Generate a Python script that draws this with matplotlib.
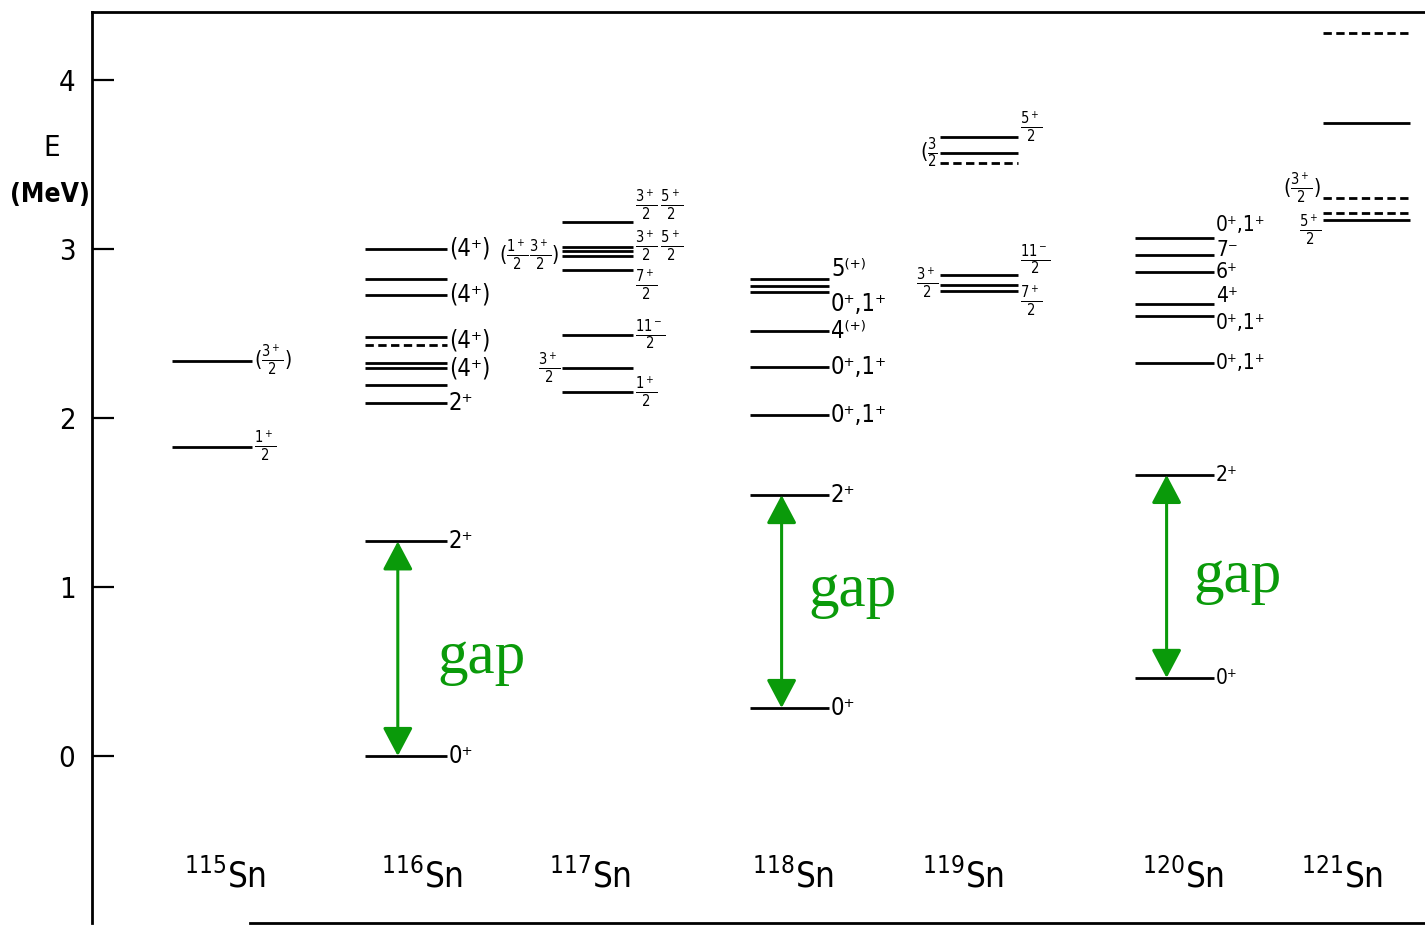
import matplotlib
matplotlib.use('Agg')
import matplotlib.pyplot as plt

plt.rcParams['font.family'] = ['DejaVu Sans']
plt.rcParams['font.stretch'] = 'condensed'
plt.rcParams['mathtext.fontset'] = 'custom'
plt.rcParams['mathtext.rm'] = 'DejaVu Sans'
plt.rcParams['mathtext.it'] = 'DejaVu Sans'

# ---------------- data (energies in MeV) ----------------
isotopes = ['115', '116', '117', '118', '119', '120', '121']

E115 = [2.34, 1.83]
R115 = [r'$(\frac{3^+}{2})$', r'$\frac{1^+}{2}$']

E116 = [3.00, 2.82, 2.73, 2.48, 2.43, 2.325, 2.295, 2.195, 2.09, 1.27, 0.0]
R116 = ['(4⁺)', '', '(4⁺)', '(4⁺)', '', '', '(4⁺)', '', '2⁺', '2⁺', '0⁺']
D116 = [0, 0, 0, 0, 1, 0, 0, 0, 0, 0, 0]

E117 = [3.16, 3.01, 2.985, 2.96, 2.876, 2.49, 2.296, 2.154]
R117 = [r'$\frac{3^+}{2}\,\frac{5^+}{2}$', '', r'$\frac{3^+}{2}\,\frac{5^+}{2}$', '',
        r'$\frac{7^+}{2}$', r'$\frac{11^-}{2}$', '', r'$\frac{1^+}{2}$']
L117 = ['', '', '', r'$(\frac{1^+}{2}\frac{3^+}{2})$', '', '', r'$\frac{3^+}{2}$', '']

E118 = [2.82, 2.78, 2.745, 2.515, 2.30, 2.02, 1.544, 0.284]
R118 = ['5⁽⁺⁾', '', '0⁺,1⁺', '4⁽⁺⁾', '0⁺,1⁺', '0⁺,1⁺', '2⁺', '0⁺']

E119 = [3.66, 3.57, 3.51, 2.846, 2.787, 2.75]
R119 = [r'$\frac{5^+}{2}$', '', '', r'$\frac{11^-}{2}$', '', r'$\frac{7^+}{2}$']
L119 = ['', r'$(\frac{3}{2}$', '', '', r'$\frac{3^+}{2}$', '']
D119 = [0, 0, 1, 0, 0, 0]

E120 = [3.065, 2.964, 2.864, 2.675, 2.604, 2.325, 1.663, 0.462]
R120 = ['0⁺,1⁺', '7⁻', '6⁺', '4⁺', '0⁺,1⁺', '0⁺,1⁺', '2⁺', '0⁺']

E121 = [4.28, 3.745, 3.30, 3.21, 3.17]
L121 = ['', '', r'$(\frac{3^+}{2})$', '', r'$\frac{5^+}{2}$']
D121 = [1, 0, 1, 1, 0]

gap_isotopes = ['116', '118', '120']
yticks = [0, 1, 2, 3, 4]

# ---------------- layout ----------------
col_x = {'115': (172, 252), '116': (365, 447), '117': (562, 633),
         '118': (750, 829), '119': (940, 1018), '120': (1135, 1214),
         '121': (1323, 1410)}
name_x = {'115': 225, '116': 422, '117': 590, '118': 793, '119': 963,
          '120': 1183, '121': 1342}
# vertical nudges of labels (MeV) so they do not collide
label_dy = {('116', 3): -0.02, ('118', 0): 0.06, ('118', 2): -0.07,
            ('120', 0): 0.075, ('120', 1): 0.03, ('120', 3): 0.045,
            ('120', 4): -0.04, ('119', 0): 0.06, ('119', 3): 0.09,
            ('119', 5): -0.06, ('119', 4): 0.01, ('117', 0): 0.1,
            ('117', 2): 0.03, ('117', 4): -0.09, ('121', 2): 0.06,
            ('121', 4): -0.06}

levels = {
    '115': (E115, R115, [''] * len(E115), [0] * len(E115)),
    '116': (E116, R116, [''] * len(E116), D116),
    '117': (E117, R117, L117, [0] * len(E117)),
    '118': (E118, R118, [''] * len(E118), [0] * len(E118)),
    '119': (E119, R119, L119, D119),
    '120': (E120, R120, [''] * len(E120), [0] * len(E120)),
    '121': (E121, [''] * len(E121), L121, D121),
}

W, H = 1425, 927
fig = plt.figure(figsize=(W / 100, H / 100), dpi=100)
ax = fig.add_axes([92 / W, 4 / H, 1 - 92 / W, (923 - 12) / H])
ax.set_xlim(92, 1425)
ax.set_ylim(-0.988, 4.402)

ax.spines['right'].set_visible(False)
for sp in ['left', 'top', 'bottom']:
    ax.spines[sp].set_linewidth(2.0)
ax.spines['bottom'].set_bounds(250, 1425)

ax.set_xticks([])
ax.set_yticks(yticks)
ax.tick_params(axis='y', direction='in', length=16, width=1.6, pad=12,
               labelsize=21)

# axis title
ax.text(52, 3.60, 'E', ha='center', va='center', fontsize=21, clip_on=False)
ax.text(50, 3.32, '(MeV)', ha='center', va='center', fontsize=19,
        fontweight='bold', clip_on=False)

# levels
for iso in isotopes:
    x0, x1 = col_x[iso]
    E, R, L, D = levels[iso]
    for i, (e, r, l, d) in enumerate(zip(E, R, L, D)):
        ls = (0, (3, 1.6)) if d else '-'
        ax.plot([x0, x1], [e, e], color='black', lw=2.0, ls=ls,
                solid_capstyle='butt')
        dy = label_dy.get((iso, i), 0.0)
        if r:
            fs = 15 if 'frac' in r else (15 if iso == '120' else 17)
            ax.text(x1 + 2, e + dy, r, ha='left', va='center', fontsize=fs)
        if l:
            fs = 15 if 'frac' in l else 17
            ax.text(x0 - 2, e + dy, l, ha='right', va='center', fontsize=fs)
    ax.text(name_x[iso], -0.78, r'$^{%s}$Sn' % iso, ha='center',
            va='baseline', fontsize=25)

# gap arrows
green = '#0a9a0a'
gap_text_x = {'116': 437, '118': 808, '120': 1193}
gap_text_y = {'116': 0.49, '118': 0.89, '120': 0.97}
for iso in gap_isotopes:
    x0, x1 = col_x[iso]
    E = levels[iso][0]
    lo, hi = E[-1], E[-2]
    xa = x0 + 0.4 * (x1 - x0)
    ax.annotate('', xy=(xa, hi), xytext=(xa, lo),
                arrowprops=dict(arrowstyle='<|-|>,head_length=0.7,head_width=0.37',
                                color=green, lw=2.2, mutation_scale=25,
                                shrinkA=0, shrinkB=0))
    ax.text(gap_text_x[iso], gap_text_y[iso], 'gap', color=green,
            family='Liberation Serif', fontsize=44, ha='left', va='baseline')

fig.savefig('out.png', dpi=100)
